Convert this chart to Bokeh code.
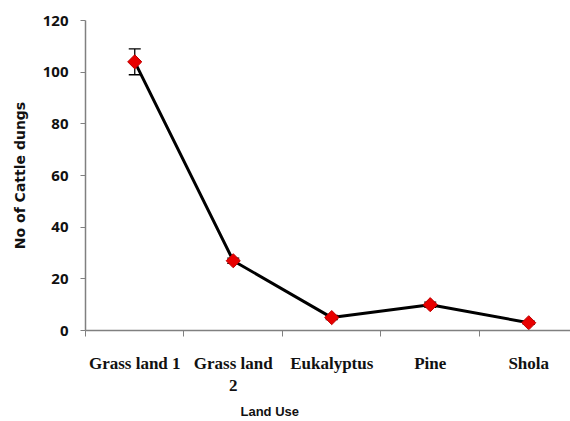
import math
from bokeh.plotting import figure
from bokeh.models import FixedTicker, Whisker, ColumnDataSource, Title, Range1d
from bokeh.embed import file_html
from bokeh.resources import INLINE

categories = ["Grass land 1", "Grass land\n2", "Eukalyptus", "Pine", "Shola"]
values = [104, 27, 5, 10, 3]
errors = [5, 1, 0.8, 1, 0.6]
y_ticks = [0, 20, 40, 60, 80, 100, 120]

xs = [i + 0.5 for i in range(len(categories))]
src = ColumnDataSource(dict(
    x=xs, y=values,
    lo=[v - e for v, e in zip(values, errors)],
    hi=[v + e for v, e in zip(values, errors)],
))

p = figure(width=570, height=421, output_backend="svg", toolbar_location=None,
           x_range=Range1d(0, 4.924), y_range=Range1d(0, 120),
           min_border_left=85, min_border_right=0, min_border_top=20, min_border_bottom=0)
p.background_fill_color = "white"
p.border_fill_color = "white"
p.outline_line_color = None
p.grid.visible = False

# error bars
w = Whisker(source=src, base="x", lower="lo", upper="hi", dimension="height",
            line_color="black", line_width=1.3)
w.upper_head.size = 12
w.lower_head.size = 12
w.upper_head.line_width = 1.3
w.lower_head.line_width = 1.3
p.add_layout(w)

p.line("x", "y", source=src, line_color="black", line_width=3)
p.scatter("x", "y", source=src, marker="square", angle=math.pi / 4, size=10,
          fill_color="#e80000", line_color="#c00000", line_width=1)

# x axis
xa = p.xaxis[0]
xa.ticker = FixedTicker(ticks=xs, minor_ticks=list(range(len(categories) + 1)))
xa.major_label_overrides = {x: c for x, c in zip(xs, categories)}
xa.major_tick_line_color = None
xa.minor_tick_line_color = "#808080"
xa.minor_tick_out = 6
xa.minor_tick_in = 0
xa.axis_line_color = "#808080"
xa.axis_line_width = 1.5
xa.major_label_standoff = 17
xa.major_label_text_font = "Liberation Serif"
xa.major_label_text_font_style = "bold"
xa.major_label_text_font_size = "17px"
xa.major_label_text_color = "#111111"

# y axis
ya = p.yaxis[0]
ya.ticker = FixedTicker(ticks=y_ticks)
ya.minor_tick_line_color = None
ya.major_tick_out = 5
ya.major_tick_in = 0
ya.major_tick_line_color = "#808080"
ya.axis_line_color = "#808080"
ya.axis_line_width = 1.5
ya.major_label_standoff = 12
ya.major_label_text_font = "Open Sans"
ya.major_label_text_font_style = "bold"
ya.major_label_text_font_size = "15px"
ya.major_label_text_color = "#111111"
ya.axis_label = "No of Cattle dungs"
ya.axis_label_text_font = "DejaVu Sans"
ya.axis_label_text_font_style = "bold"
ya.axis_label_text_font_size = "14px"
ya.axis_label_text_color = "#111111"
ya.axis_label_standoff = 12

xt = Title(text="Land Use", align="left", offset=155, standoff=6,
           text_font="Liberation Sans", text_font_style="bold", text_font_size="13px",
           text_color="#111111")
p.add_layout(xt, "below")

open("out.html", "w").write(file_html(p, INLINE))
